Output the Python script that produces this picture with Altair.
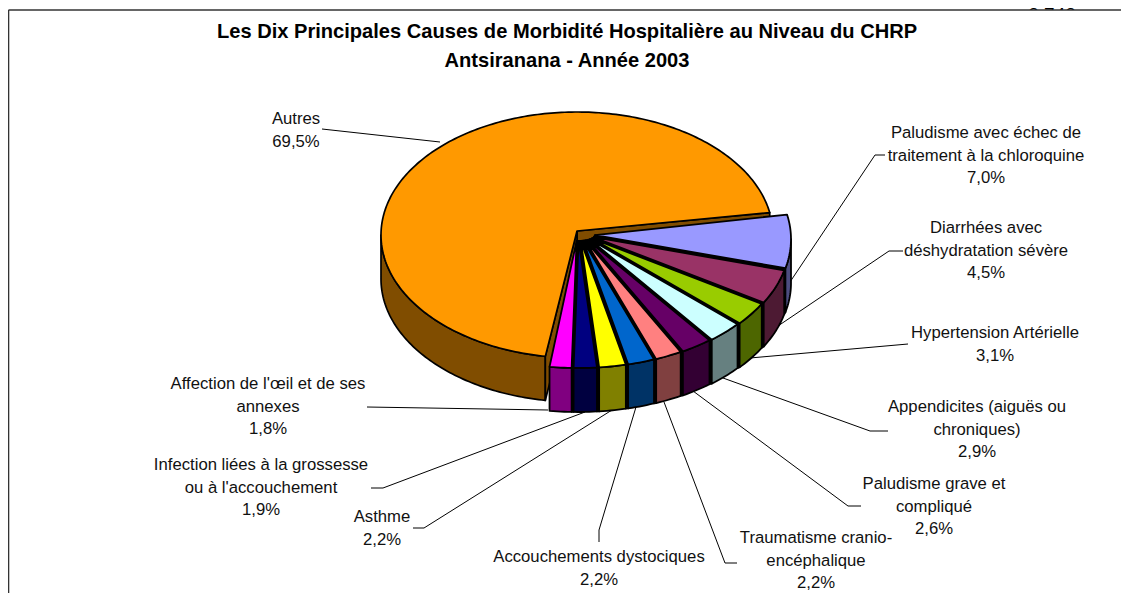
import math
import altair as alt

W, H = 1113, 585

labels = ["Autres", "Paludisme avec échec de traitement à la chloroquine",
          "Diarrhées avec déshydratation sévère", "Hypertension Artérielle",
          "Appendicites (aiguës ou chroniques)", "Paludisme grave et compliqué",
          "Traumatisme cranio-encéphalique", "Accouchements dystociques", "Asthme",
          "Infection liées à la grossesse ou à l'accouchement",
          "Affection de l'œil et de ses annexes"]
values = [69.5, 7.0, 4.5, 3.1, 2.9, 2.6, 2.2, 2.2, 2.2, 1.9, 1.8]
top_colors = ["#FF9900", "#9999FF", "#993366", "#99CC00", "#CCFFFF", "#660066",
              "#FF8080", "#0066CC", "#FFFF00", "#000080", "#FF00FF"]
side_colors = ["#804D00", "#4D4D80", "#4D1A33", "#4D6600", "#668080", "#330033",
               "#804040", "#003366", "#808000", "#000040", "#800080"]

title_lines = ["Les Dix Principales Causes de Morbidité Hospitalière au Niveau du CHRP",
               "Antsiranana - Année 2003"]
label_lines = [
    ["Autres", "69,5%"],
    ["Paludisme avec échec de", "traitement à la chloroquine", "7,0%"],
    ["Diarrhées avec", "déshydratation sévère", "4,5%"],
    ["Hypertension Artérielle", "3,1%"],
    ["Appendicites (aiguës ou", "chroniques)", "2,9%"],
    ["Paludisme grave et", "compliqué", "2,6%"],
    ["Traumatisme cranio-", "encéphalique", "2,2%"],
    ["Accouchements dystociques", "2,2%"],
    ["Asthme", "2,2%"],
    ["Infection liées à la grossesse", "ou à l'accouchement", "1,9%"],
    ["Affection de l'œil et de ses", "annexes", "1,8%"],
]
label_cx = [296, 986, 986, 995, 977, 934, 816, 599, 382, 261, 268]
label_y0 = [119, 133, 228, 333, 407, 484, 538, 557, 517, 465, 384]

leaders = [
    [(322, 129), (440, 142)],
    [(885, 155), (875, 155), (790, 282)],
    [(903, 251), (889, 251), (775, 328)],
    [(908, 344), (750, 358)],
    [(888, 431), (870, 431), (723, 378)],
    [(861, 506), (848, 506), (693, 391)],
    [(737, 563), (725, 563), (664, 402)],
    [(599, 542), (599, 530), (636, 407)],
    [(413, 528), (424, 528), (612, 410)],
    [(371, 488), (383, 488), (585, 412)],
    [(367, 407), (548, 410)],
]

START = 11.5
AUTRES_START = 10.5
RX, RY = 196, 123
DEPTH = 44
AUTRES_APEX = (577, 231)
HUB = (578, 235)
EXPLODE_X, EXPLODE_Y = 17, 6
ELL_DY = 4


def spans():
    out = [(AUTRES_START, AUTRES_START + values[0] * 3.6)]
    a = START
    for v in values[1:]:
        out.append((a, a - v * 3.6))
        a -= v * 3.6
    return out


def arc(apex, a0, a1, dy=0):
    n = max(1, int(abs(a1 - a0)))
    pts = []
    for i in range(n + 1):
        t = math.radians(a0 + (a1 - a0) * i / n)
        pts.append([apex[0] + RX * math.cos(t), apex[1] + ELL_DY + dy - RY * math.sin(t)])
    return pts


def feat(ring, fill, sw):
    ring = ring + [ring[0]]
    return {"type": "Feature", "properties": {"fill": fill, "sw": sw},
            "geometry": {"type": "Polygon", "coordinates": [ring]}}


def wall(apex, a0, a1, fill, sw):
    lo, hi = sorted((a0, a1))
    res = []
    for k in (-360, 0, 360):
        l, h = max(lo, 180 + k), min(hi, 360 + k)
        if l < h:
            res.append(feat(arc(apex, l, h) + arc(apex, h, l, DEPTH), fill, sw))
    return res


def build():
    feats = []
    sp = spans()
    a0, a1 = sp[0]
    ax = list(AUTRES_APEX)
    tip = arc(ax, a1, a1)[0]
    end = arc(ax, a0, a0)[0]
    feats.append(feat([ax, end, [end[0], end[1] + DEPTH], [ax[0], ax[1] + DEPTH]], side_colors[0], 1.7))
    feats += wall(ax, a0, a1, side_colors[0], 1.7)
    feats.append(feat([ax, tip, [tip[0], tip[1] + DEPTH], [ax[0], ax[1] + DEPTH]], side_colors[0], 1.7))
    feats.append(feat([ax] + arc(ax, a0, a1), top_colors[0], 1.7))
    apexes = []
    for (s, e) in sp[1:]:
        mid = math.radians((s + e) / 2)
        apexes.append([HUB[0] + EXPLODE_X * math.cos(mid), HUB[1] - EXPLODE_Y * math.sin(mid)])
    # the black seams between neighbouring small slices
    for i in range(len(apexes) - 1):
        b = sp[i + 1][1]
        p = arc(apexes[i], b, b)[0]
        q = arc(apexes[i + 1], b, b)[0]
        feats.append(feat([apexes[i], p, [p[0], p[1] + DEPTH], [q[0], q[1] + DEPTH], q, apexes[i + 1]], "#000000", 1.8))
    for i, (s, e) in enumerate(sp[1:]):
        feats += wall(apexes[i], s, e, side_colors[i + 1], 1.8)
    for i, (s, e) in enumerate(sp[1:]):
        feats.append(feat([apexes[i]] + arc(apexes[i], s, e), top_colors[i + 1], 1.8))
    return feats


X = alt.X("x:Q", scale=alt.Scale(domain=[0, W], range=[0, W]), axis=None)
Y = alt.Y("y:Q", scale=alt.Scale(domain=[0, H], range=[0, H]), axis=None)

clipped = alt.Chart(alt.Data(values=[{"x": 1044, "y": -2, "t": "2 742"}])).mark_text(
    font="Liberation Sans", fontSize=19, align="center", baseline="top", color="#000000"
).encode(x=X, y=Y, text="t:N")

mask = alt.Chart(alt.Data(values=[{"x": 0, "y": 2, "x2": W, "y2": H}])).mark_rect(
    color="white"
).encode(x=X, y=Y, x2="x2:Q", y2="y2:Q")

frame_rows = [{"x": 0.5, "y": 2, "x2": W, "y2": 2}, {"x": 0.5, "y": 2, "x2": 0.5, "y2": H}]
frame = alt.Chart(alt.Data(values=frame_rows)).mark_rule(color="#333333", strokeWidth=1.6).encode(
    x=X, y=Y, x2="x2:Q", y2="y2:Q")

pie = alt.Chart(alt.Data(values=build())).mark_geoshape(stroke="black", strokeJoin="round").encode(
    fill=alt.Color("properties.fill:N", scale=None),
    strokeWidth=alt.StrokeWidth("properties.sw:Q", scale=None),
).project(type="identity", scale=1, translate=[-8, -8])

segs = []
for line in leaders:
    for (p, q) in zip(line, line[1:]):
        segs.append({"x": p[0] - 8, "y": p[1] - 8, "x2": q[0] - 8, "y2": q[1] - 8})
rules = alt.Chart(alt.Data(values=segs)).mark_rule(color="black", strokeWidth=1).encode(
    x=X, y=Y, x2="x2:Q", y2="y2:Q")

text_rows = []
for cx, y0, lines in zip(label_cx, label_y0, label_lines):
    for j, t in enumerate(lines):
        text_rows.append({"x": cx - 8, "y": y0 - 8 + 22.7 * j, "t": t})
texts = alt.Chart(alt.Data(values=text_rows)).mark_text(
    font="Liberation Sans", fontSize=16.7, align="center", baseline="middle", color="#111111"
).encode(x=X, y=Y, text="t:N")

title_rows = [{"x": 559, "y": 24 + 29 * i, "t": t} for i, t in enumerate(title_lines)]
title = alt.Chart(alt.Data(values=title_rows)).mark_text(
    font="Liberation Sans", fontSize=20.1, fontWeight="bold", align="center", baseline="middle", color="black"
).encode(x=X, y=Y, text="t:N")

chart = alt.layer(clipped, mask, frame, rules, pie, texts, title).properties(
    width=W, height=H, padding=0, autosize=alt.AutoSizeParams(type="none"), background="white"
).configure_view(stroke=None)

chart.save("out.html", embed_options={"renderer": "svg", "actions": False})
